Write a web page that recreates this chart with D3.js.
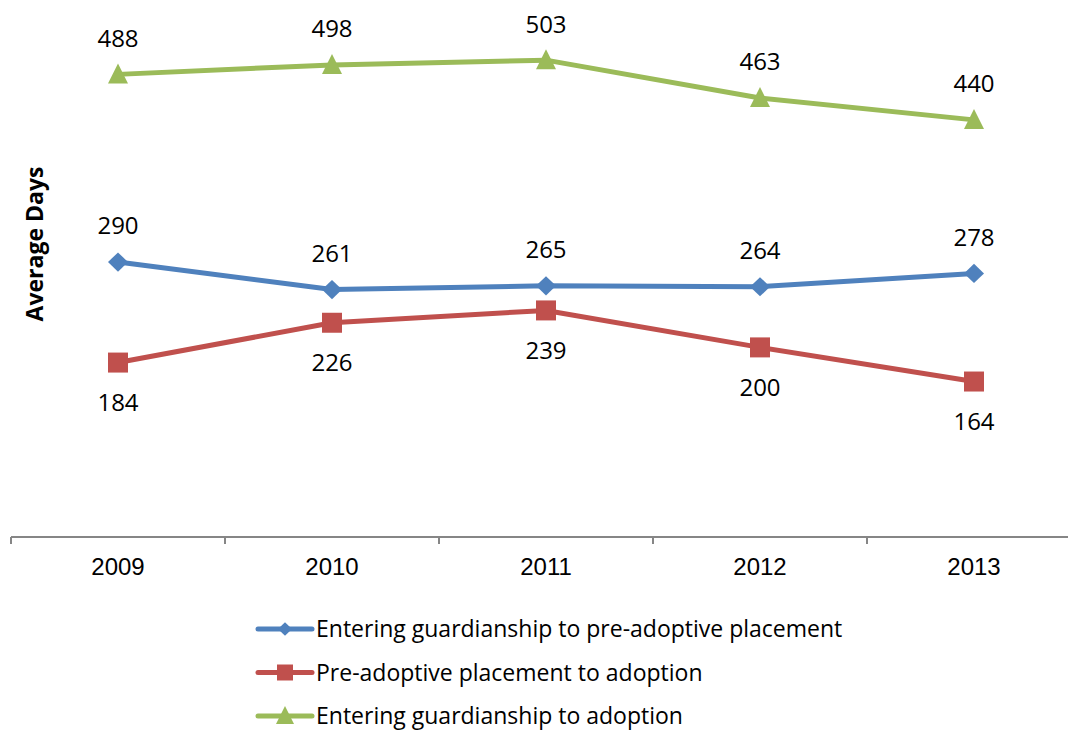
<!DOCTYPE html>
<html>
<head>
<meta charset="utf-8">
<script src="https://cdn.jsdelivr.net/npm/d3@7"></script>
<style>
  body { margin: 0; background: #fff; }
  svg { display: block; font-family: "Open Sans", "Liberation Sans", sans-serif; }
  .axis path, .axis line { stroke: #868686; stroke-width: 2px; }
  .axis text { font-size: 24px; fill: #000; }
</style>
</head>
<body>
<svg class="chart" width="1068" height="732"></svg>
<script>
// chart data
var years = ["2009", "2010", "2011", "2012", "2013"];
var guardToPre = [290, 261, 265, 264, 278];
var preToAdopt = [184, 226, 239, 200, 164];
var guardToAdopt = [488, 498, 503, 463, 440];
var seriesNames = [
    "Entering guardianship to pre-adoptive placement",
    "Pre-adoptive placement to adoption",
    "Entering guardianship to adoption"
];

const width = 1068;
const height = 732;

var svg = d3.select(".chart");

var xScale = d3.scaleBand()
    .domain(years)
    .range([11, 1081]);

var yScale = d3.scaleLinear()
    .domain([0, 550])
    .range([537, 15.6]);

// series setup: values, colour, marker, label side
var series = [
    { name: seriesNames[0], values: guardToPre, color: "#4F81BD", symbol: "diamond", labelDy: -36 },
    { name: seriesNames[1], values: preToAdopt, color: "#C0504D", symbol: "square", labelDy: 40 },
    { name: seriesNames[2], values: guardToAdopt, color: "#9BBB59", symbol: "triangle", labelDy: -36 }
];

function markerPath(type, s) {
    if (type == "diamond") {
        return "M0," + (-s * 0.48) + "L" + (s / 2) + ",0L0," + (s * 0.48) + "L" + (-s / 2) + ",0Z";
    } else if (type == "square") {
        return "M" + (-s / 2) + "," + (-s / 2) + "h" + s + "v" + s + "h" + (-s) + "Z";
    } else {
        return "M0," + (-s * 0.55) + "L" + (s / 2) + "," + (s * 0.45) + "L" + (-s / 2) + "," + (s * 0.45) + "Z";
    }
}

/**** X Bottom Axis ****/
var xAxis = d3.axisBottom(xScale)
    .tickSize(0)
    .tickPadding(21);

var axisG = svg.append("g")
    .attr("class", "axis")
    .attr("transform", "translate(0," + 537 + ")")
    .call(xAxis);

axisG.select(".domain").remove();
axisG.append("line")
    .attr("x1", 11).attr("x2", width)
    .attr("y1", 0).attr("y2", 0);

// tick marks sit between categories
var boundaries = years.map(function(d) { return xScale(d); }).concat([xScale(years[4]) + xScale.bandwidth()]);
axisG.selectAll(".bound")
    .data(boundaries)
    .enter()
    .append("line")
    .attr("class", "bound")
    .attr("x1", function(d) { return d; })
    .attr("x2", function(d) { return d; })
    .attr("y1", 0)
    .attr("y2", 7);

/**** Lines ****/
var line = d3.line()
    .x(function(d, i) { return xScale(years[i]) + xScale.bandwidth() / 2; })
    .y(function(d) { return yScale(d); });

series.forEach(function(s) {
    var g = svg.append("g");

    g.append("path")
        .datum(s.values)
        .attr("d", line)
        .attr("fill", "none")
        .attr("stroke", s.color)
        .attr("stroke-width", 5)
        .attr("stroke-linejoin", "round");

    g.selectAll(".marker")
        .data(s.values)
        .enter()
        .append("path")
        .attr("class", "marker")
        .attr("d", markerPath(s.symbol, 20))
        .attr("transform", function(d, i) {
            return "translate(" + (xScale(years[i]) + xScale.bandwidth() / 2) + "," + yScale(d) + ")";
        })
        .attr("fill", s.color);

    g.selectAll(".lbl")
        .data(s.values)
        .enter()
        .append("text")
        .attr("class", "lbl")
        .attr("x", function(d, i) { return xScale(years[i]) + xScale.bandwidth() / 2; })
        .attr("y", function(d) { return yScale(d) + s.labelDy; })
        .attr("dy", "0.35em")
        .attr("text-anchor", "middle")
        .style("font-size", "24px")
        .text(function(d) { return d; });
});

/**** Y axis title ****/
svg.append("text")
    .attr("transform", "translate(43,244) rotate(-90)")
    .attr("text-anchor", "middle")
    .style("font-size", "23px")
    .style("font-weight", "bold")
    .text("Average Days");

/**** Legend ****/
var legend = svg.append("g");
series.forEach(function(s, i) {
    var y = 629 + i * 43.5;
    legend.append("line")
        .attr("x1", 258).attr("x2", 312)
        .attr("y1", y).attr("y2", y)
        .attr("stroke", s.color)
        .attr("stroke-width", 5)
        .attr("stroke-linecap", "round");
    legend.append("path")
        .attr("d", markerPath(s.symbol, s.symbol == "diamond" ? 14 : (s.symbol == "square" ? 16 : 18)))
        .attr("transform", "translate(285," + y + ")")
        .attr("fill", s.color);
    legend.append("text")
        .attr("x", 316)
        .attr("y", y)
        .attr("dy", "0.35em")
        .style("font-size", "23px")
        .text(s.name);
});
</script>
</body>
</html>
